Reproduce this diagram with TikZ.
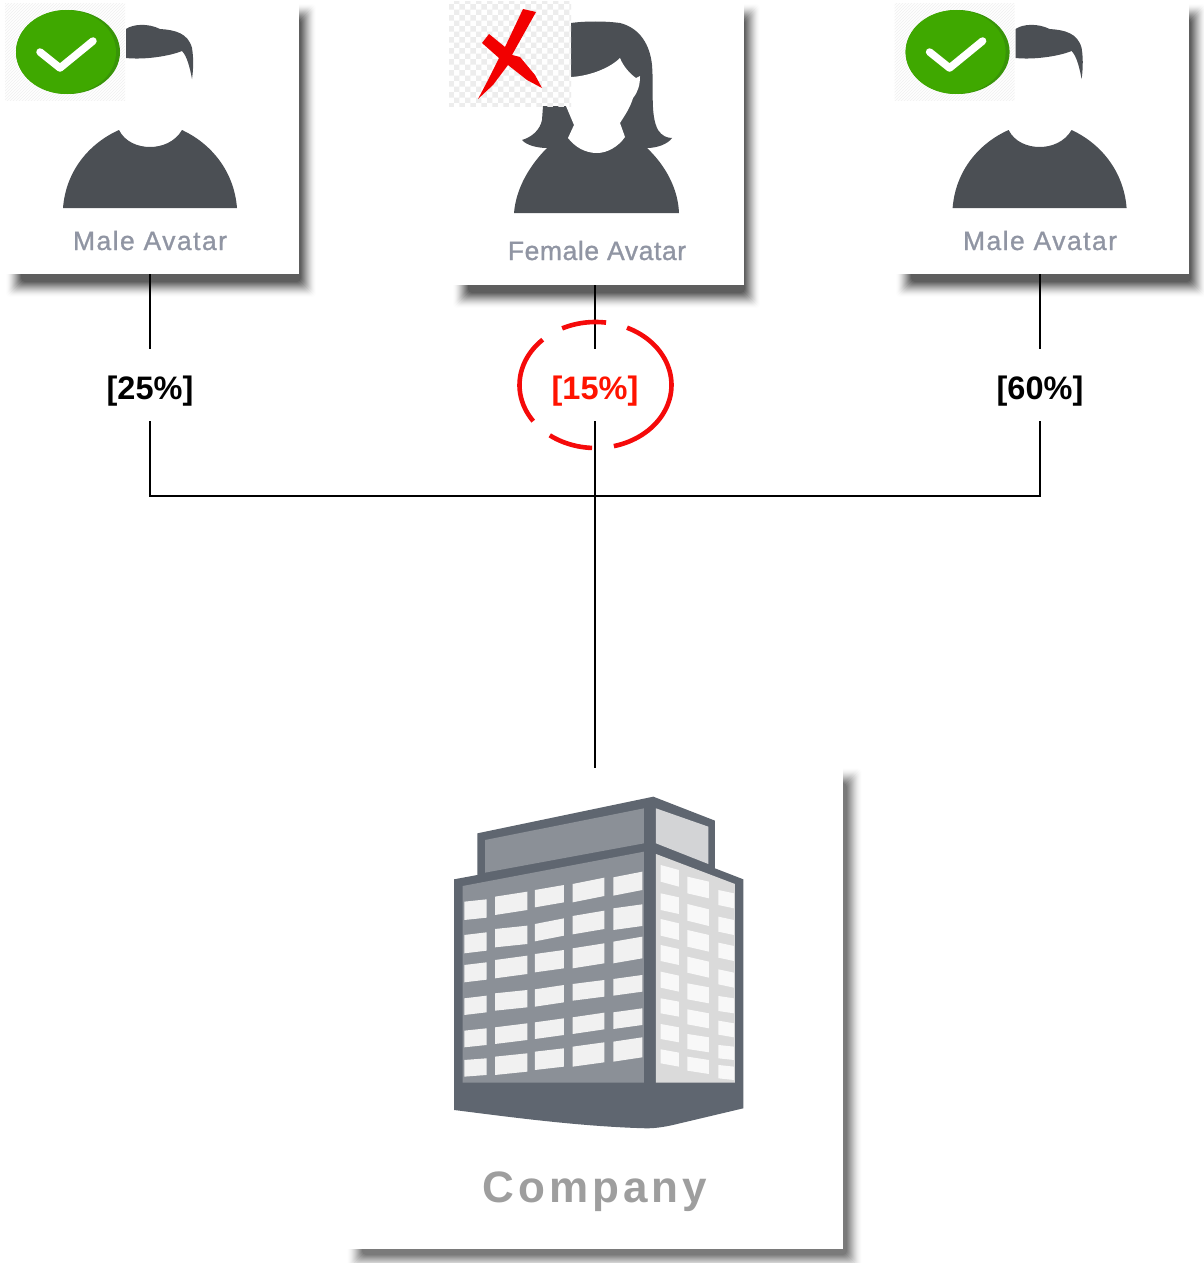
\documentclass[tikz,border=0pt]{standalone}
\usepackage{fontspec}
\usetikzlibrary{patterns}
\setmainfont{Liberation Sans}
\definecolor{figdark}{HTML}{4B4F54}
\definecolor{capgrey}{HTML}{9095A3}
\definecolor{bgreen}{HTML}{3FA800}
\definecolor{bgreend}{HTML}{389408}
\definecolor{bldg}{HTML}{5F6670}
\definecolor{bfront}{HTML}{8B9097}
\definecolor{bside}{HTML}{DADADA}
\definecolor{broofs}{HTML}{D3D4D6}
\definecolor{bwin}{HTML}{F1F1F1}
\definecolor{bwins}{HTML}{F8F8F8}
\definecolor{redring}{HTML}{F50A0A}
\newcommand{\cardshadow}[5]{%
  \foreach \i in {0,...,15}{
    \pgfmathsetmacro{\layerop}{#5*(\i+1)/8}
    \fill[black,opacity=\layerop,rounded corners=4pt] ({#1+\i},{#2+\i}) rectangle ({#3-\i},{#4-\i});
  }}
\newcommand{\malefig}{%
  \fill[figdark] (126,29) .. controls (133,24) and (148,23) .. (160,29)
     .. controls (175,30) and (188,33) .. (192,48)
     .. controls (194,60) and (193,72) .. (192,79)
     .. controls (190,68) and (187,56) .. (182,51)
     .. controls (170,56) and (145,60) .. (126,58) -- cycle;
  \fill[figdark] (63,208) .. controls (66,170) and (90,143) .. (119,130)
     .. controls (125,142) and (138,147) .. (150,147)
     .. controls (162,147) and (175,142) .. (182,130)
     .. controls (210,143) and (234,170) .. (237,208) -- cycle;}
\newcommand{\okbadge}{%
  \fill[bgreend] (68,52) ellipse [x radius=52,y radius=42];
  \fill[bgreen] (66,52) ellipse [x radius=50,y radius=42];
  \draw[white,line width=7.5pt,line cap=round,line join=round] (40,52) -- (60,68) -- (93,41);}
\tikzset{
  card/.style={rectangle,fill=white,inner sep=0pt,outer sep=0pt},
  captext/.style={text=capgrey,inner sep=0pt,anchor=base,font=\fontsize{26.5}{30}\selectfont\addfontfeature{LetterSpace=#1,FakeBold=1}},
  pct/.style={inner sep=0pt,minimum height=72pt,minimum width=90pt,font=\fontsize{32.5}{36}\selectfont\bfseries},
  link/.style={draw=black,line width=2.2pt},
  ringarc/.style={draw=redring,line width=4.6pt,smooth,samples=25},
  hatchbox/.style={pattern=north east lines,pattern color=black!6},
  checkbox/.style={pattern=checkerboard,pattern color=black!7},
}
\begin{document}
\begin{tikzpicture}[x=1pt,y=-1pt]
\useasboundingbox (0,0) rectangle (1204,1263);
\fill[white] (0,0) rectangle (1204,1263);

% shadows
\cardshadow{6}{4}{316}{297}{.054}
\cardshadow{453}{4}{760}{308}{.054}
\cardshadow{896}{4}{1206}{297}{.054}
\cardshadow{347}{768}{862}{1270}{.04}

% cards
\node[card,minimum width=294pt,minimum height=274pt] (male1) at (152,137) {};
\node[card,minimum width=291pt,minimum height=285pt] (female) at (598.5,142.5) {};
\node[card,minimum width=294pt,minimum height=274pt] (male2) at (1042,137) {};
\node[card,minimum width=496pt,minimum height=481pt] (company) at (595,1008.5) {};

% percent labels and connectors
\node[pct] (p1) at (150,385) {\raisebox{-14.5pt}[0pt][0pt]{[25\%]}};
\node[pct,text=red!85!orange] (p2) at (595,385) {\raisebox{-14.5pt}[0pt][0pt]{[15\%]}};
\node[pct] (p3) at (1040,385) {\raisebox{-14.5pt}[0pt][0pt]{[60\%]}};
\coordinate (j1) at (150,496);
\coordinate (j2) at (595,496);
\coordinate (j3) at (1040,496);
\coordinate (ctop) at (595,768);
\draw[link] (male1.south -| p1) -- (p1.north);
\draw[link] (female.south -| p2) -- (p2.north);
\draw[link] (male2.south -| p3) -- (p3.north);
\draw[link] (p1.south) -- (j1) -- (j3) -- (p3.south);
\draw[link] (p2.south) -- (ctop);

% dashed ring
\draw[ringarc] plot[domain=82:116] ({595.5+76*cos(\x)},{385-63*sin(\x)});
\draw[ringarc] plot[domain=-76:65.5] ({595.5+76*cos(\x)},{385-63*sin(\x)});
\draw[ringarc] plot[domain=-127:-92.6] ({595.5+76*cos(\x)},{385-63*sin(\x)});
\draw[ringarc] plot[domain=134:215] ({595.5+76*cos(\x)},{385-63*sin(\x)});

% male figure left
\malefig
\fill[white] (5,4) rectangle (125,100);
\fill[hatchbox] (5,4) rectangle (125,100);
\okbadge
\node[captext=5.5] (t1) at (150,250) {Male Avatar};

% male figure right
\begin{scope}[shift={(889.6,0)}]
\malefig
\fill[white] (5,4) rectangle (125,100);
\fill[hatchbox] (5,4) rectangle (125,100);
\okbadge
\end{scope}
\node[captext=5.5] (t3) at (1040,250) {Male Avatar};

% female figure
\fill[figdark] (566,106) -- (571,23) .. controls (585,21) and (605,21) .. (620,23)
  .. controls (640,28) and (650,45) .. (652,65)
  .. controls (654,90) and (650,115) .. (658,130)
  .. controls (662,136) and (667,138) .. (672,138)
  .. controls (668,144) and (657,148) .. (647,148)
  .. controls (665,165) and (678,188) .. (679,213)
  -- (514,213)
  .. controls (516,188) and (530,165) .. (547,148)
  .. controls (537,148) and (526,145) .. (522,140)
  .. controls (532,137) and (540,130) .. (542,120)
  -- (543,106) -- cycle;
\fill[white] (566,106) -- (571,77) .. controls (590,76) and (610,68) .. (620,58)
  .. controls (623,66) and (630,74) .. (636,78) -- (640,76)
  .. controls (640,85) and (638,92) .. (633,98)
  .. controls (630,108) and (625,115) .. (620,123)
  -- (625,137)
  .. controls (618,147) and (607,153) .. (597,153)
  .. controls (585,153) and (575,147) .. (568,138)
  -- (574,125) -- cycle;
\fill[white] (449,2) rectangle (571,106);
\fill[checkbox] (449,2) rectangle (571,106);
\fill[red!95!black] (523,9) -- (536,12) -- (512,55) -- (520,57) -- (535,75) -- (542,88)
  -- (527,80) -- (508,65) -- (493,85) -- (478,99) -- (487,82) -- (499,58)
  -- (482,43) -- (489,34) -- (505,47) -- cycle;
\node[captext=2.2] (t2) at (597,260) {Female Avatar};

% building
\begin{scope}[shift={(440,780)},x=0.3333pt,y=-0.3333pt]
\fill[bldg] (42,990) -- (42,298) -- (112,285) -- (112,160) -- (640,50) -- (825,122)
  -- (825,265) -- (910,298) -- (910,985) -- (720,1030)
  .. controls (680,1040) and (650,1045) .. (620,1045)
  .. controls (420,1040) and (200,1010) .. (42,990) -- cycle;
\fill[bfront] (135,180) -- (612,85) -- (612,190) -- (135,278) -- cycle;
\fill[broofs] (648,85) -- (805,140) -- (805,252) -- (648,190) -- cycle;
\fill[bfront] (68,318) -- (612,215) -- (612,908) -- (68,908) -- cycle;
\fill[bside] (648,222) -- (885,312) -- (885,908) -- (648,908) -- cycle;
\foreach \a/\b/\yl/\yr/\h in {
  73/140/365/358/55,165/262/350/335/55,285/372/330/315/52,398/493/312/293/55,520/607/292/275/55,
  73/140/465/457/55,165/262/447/437/55,285/372/432/415/52,398/493/408/392/55,520/607/385/373/65,
  73/140/555/547/52,165/262/540/527/55,285/372/522/510/55,398/493/505/490/60,520/607/485/470/65,
  73/140/655/647/50,165/262/640/630/52,285/372/628/615/52,398/493/612/600/50,520/607/597/585/50,
  73/140/752/745/50,165/262/742/730/50,285/372/727/715/50,398/493/712/698/50,520/607/697/685/50,
  73/140/840/835/50,165/262/830/820/55,285/372/815/805/55,398/493/800/787/60,520/607/785/772/60}{
  \fill[bwin] (\a,\yl) -- (\b,\yr) -- (\b,\yr+\h) -- (\a,\yl+\h) -- cycle;
}
\foreach \a/\b/\yl/\yr/\h in {
  662/717/255/270/50,742/807/290/305/50,835/882/330/340/45,
  662/717/340/352/50,742/807/372/388/50,835/882/410/420/45,
  662/717/417/430/50,742/807/450/465/50,835/882/488/498/45,
  662/717/495/507/48,742/807/530/545/48,835/882/568/578/45,
  662/717/575/587/48,742/807/610/622/48,835/882/648/655/45,
  662/717/655/665/45,742/807/688/700/45,835/882/722/730/42,
  662/717/732/742/45,742/807/762/772/45,835/882/795/800/40,
  662/717/808/818/42,742/807/830/840/42,835/882/855/860/40}{
  \fill[bwins] (\a,\yl) -- (\b,\yr) -- (\b,\yr+\h) -- (\a,\yl+\h) -- cycle;
}
\end{scope}
\node[inner sep=0pt,anchor=base,text=black!38,font=\fontsize{44}{48}\selectfont\bfseries\addfontfeature{LetterSpace=9}] (t4) at (595,1202) {Company};
\end{tikzpicture}
\end{document}
